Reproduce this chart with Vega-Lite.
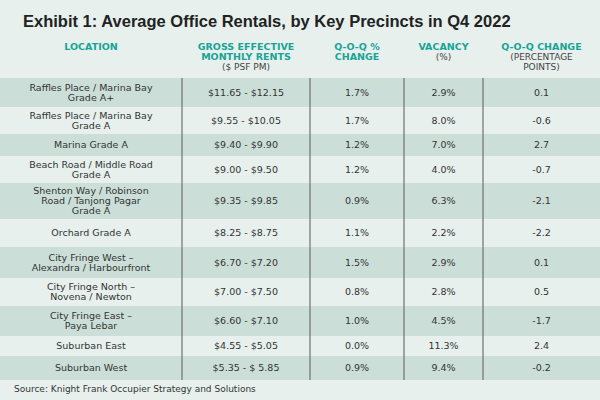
{
  "$schema": "https://vega.github.io/schema/vega-lite/v6.json",
  "width": 600,
  "height": 365,
  "autosize": "none",
  "padding": {"top": 35, "left": 0, "right": 0, "bottom": 0},
  "background": "#e7f0ed",
  "config": {"view": {"stroke": null}},
  "title": {
    "text": "Exhibit 1: Average Office Rentals, by Key Precincts in Q4 2022",
    "anchor": "start",
    "frame": "group",
    "dx": 23,
    "offset": 5,
    "font": "Liberation Sans",
    "fontSize": 16.5,
    "fontWeight": "bold",
    "color": "#222222"
  },
  "datasets": {
    "stripes": [
      {"row": 0.5, "row2": 1.5},
      {"row": 2.5, "row2": 3.5},
      {"row": 4.5, "row2": 5.5},
      {"row": 6.5, "row2": 7.5},
      {"row": 8.5, "row2": 9.5},
      {"row": 10.5, "row2": 11.5}
    ],
    "dividers": [{"col": 1.5}, {"col": 2.5}, {"col": 3.5}, {"col": 4.5}],
    "heads": [
      {"row": -2, "col": 1, "text": "LOCATION"},
      {"row": -2, "col": 2, "text": "GROSS EFFECTIVE"},
      {"row": -1, "col": 2, "text": "MONTHLY RENTS"},
      {"row": -2, "col": 3, "text": "Q-O-Q %"},
      {"row": -1, "col": 3, "text": "CHANGE"},
      {"row": -2, "col": 4, "text": "VACANCY"},
      {"row": -2, "col": 5, "text": "Q-O-Q CHANGE"}
    ],
    "subheads": [
      {"row": 0, "col": 2, "text": "($ PSF PM)"},
      {"row": -1, "col": 4, "text": "(%)"},
      {"row": -1, "col": 5, "text": "(PERCENTAGE"},
      {"row": 0, "col": 5, "text": "POINTS)"}
    ],
    "cells": [
      {"row": 1, "col": 1, "text": "Raffles Place / Marina Bay\nGrade A+"},
      {"row": 1, "col": 2, "text": "$11.65 - $12.15"},
      {"row": 1, "col": 3, "text": "1.7%"},
      {"row": 1, "col": 4, "text": "2.9%"},
      {"row": 1, "col": 5, "text": "0.1"},
      {"row": 2, "col": 1, "text": "Raffles Place / Marina Bay\nGrade A"},
      {"row": 2, "col": 2, "text": "$9.55 - $10.05"},
      {"row": 2, "col": 3, "text": "1.7%"},
      {"row": 2, "col": 4, "text": "8.0%"},
      {"row": 2, "col": 5, "text": "-0.6"},
      {"row": 3, "col": 1, "text": "Marina Grade A"},
      {"row": 3, "col": 2, "text": "$9.40 - $9.90"},
      {"row": 3, "col": 3, "text": "1.2%"},
      {"row": 3, "col": 4, "text": "7.0%"},
      {"row": 3, "col": 5, "text": "2.7"},
      {"row": 4, "col": 1, "text": "Beach Road / Middle Road\nGrade A"},
      {"row": 4, "col": 2, "text": "$9.00 - $9.50"},
      {"row": 4, "col": 3, "text": "1.2%"},
      {"row": 4, "col": 4, "text": "4.0%"},
      {"row": 4, "col": 5, "text": "-0.7"},
      {"row": 5, "col": 1, "text": "Shenton Way / Robinson\nRoad / Tanjong Pagar\nGrade A"},
      {"row": 5, "col": 2, "text": "$9.35 - $9.85"},
      {"row": 5, "col": 3, "text": "0.9%"},
      {"row": 5, "col": 4, "text": "6.3%"},
      {"row": 5, "col": 5, "text": "-2.1"},
      {"row": 6, "col": 1, "text": "Orchard Grade A"},
      {"row": 6, "col": 2, "text": "$8.25 - $8.75"},
      {"row": 6, "col": 3, "text": "1.1%"},
      {"row": 6, "col": 4, "text": "2.2%"},
      {"row": 6, "col": 5, "text": "-2.2"},
      {"row": 7, "col": 1, "text": "City Fringe West –\nAlexandra / Harbourfront"},
      {"row": 7, "col": 2, "text": "$6.70 - $7.20"},
      {"row": 7, "col": 3, "text": "1.5%"},
      {"row": 7, "col": 4, "text": "2.9%"},
      {"row": 7, "col": 5, "text": "0.1"},
      {"row": 8, "col": 1, "text": "City Fringe North –\nNovena / Newton"},
      {"row": 8, "col": 2, "text": "$7.00 - $7.50"},
      {"row": 8, "col": 3, "text": "0.8%"},
      {"row": 8, "col": 4, "text": "2.8%"},
      {"row": 8, "col": 5, "text": "0.5"},
      {"row": 9, "col": 1, "text": "City Fringe East –\nPaya Lebar"},
      {"row": 9, "col": 2, "text": "$6.60 - $7.10"},
      {"row": 9, "col": 3, "text": "1.0%"},
      {"row": 9, "col": 4, "text": "4.5%"},
      {"row": 9, "col": 5, "text": "-1.7"},
      {"row": 10, "col": 1, "text": "Suburban East"},
      {"row": 10, "col": 2, "text": "$4.55 - $5.05"},
      {"row": 10, "col": 3, "text": "0.0%"},
      {"row": 10, "col": 4, "text": "11.3%"},
      {"row": 10, "col": 5, "text": "2.4"},
      {"row": 11, "col": 1, "text": "Suburban West"},
      {"row": 11, "col": 2, "text": "$5.35 - $ 5.85"},
      {"row": 11, "col": 3, "text": "0.9%"},
      {"row": 11, "col": 4, "text": "9.4%"},
      {"row": 11, "col": 5, "text": "-0.2"}
    ],
    "notes": [
      {"row": 12, "col": 0, "text": "Source: Knight Frank Occupier Strategy and Solutions"}
    ]
  },
  "layer": [
    {
      "data": {"name": "stripes"},
      "mark": {"type": "rect", "color": "#cbdfd8"},
      "encoding": {
        "y": {"field": "row", "type": "quantitative", "axis": null,
          "scale": {"type": "linear", "zero": false, "nice": false,
            "domain": [-2, -1, 0, 0.5, 1, 1.5, 2, 2.5, 3, 3.5, 4, 4.5, 5, 5.5, 6, 6.5, 7, 7.5, 8, 8.5, 9, 9.5, 10, 10.5, 11, 11.5, 12],
            "range": [12, 22, 32, 43, 57.5, 72, 85.5, 99, 110, 121, 134.5, 148, 166, 184, 198, 212, 227.5, 243, 257, 271, 286, 301, 311, 321, 333, 345, 354]}},
        "y2": {"field": "row2"}
      }
    },
    {
      "data": {"name": "dividers"},
      "mark": {"type": "rule", "color": "#707070", "strokeWidth": 1.2},
      "encoding": {
        "x": {"field": "col", "type": "quantitative", "axis": null,
          "scale": {"type": "linear", "zero": false, "nice": false,
            "domain": [0, 1, 1.5, 2, 2.5, 3, 3.5, 4, 4.5, 5],
            "range": [14, 91, 182, 246, 310, 357, 404, 443.5, 483, 541.5]}},
        "y": {"datum": 0.5, "type": "quantitative"},
        "y2": {"datum": 11.5}
      }
    },
    {
      "data": {"name": "heads"},
      "mark": {"type": "text", "font": "DejaVu Sans", "fontSize": 9.5, "fontWeight": "bold", "color": "#17a496", "baseline": "middle", "align": "center"},
      "encoding": {
        "x": {"field": "col", "type": "quantitative"},
        "y": {"field": "row", "type": "quantitative"},
        "text": {"field": "text"}
      }
    },
    {
      "data": {"name": "subheads"},
      "mark": {"type": "text", "font": "DejaVu Sans", "fontSize": 9, "color": "#444444", "baseline": "middle", "align": "center"},
      "encoding": {
        "x": {"field": "col", "type": "quantitative"},
        "y": {"field": "row", "type": "quantitative"},
        "text": {"field": "text"}
      }
    },
    {
      "data": {"name": "cells"},
      "transform": [{"filter": "split(datum.text, '\\n').length == 1"}],
      "mark": {"type": "text", "font": "DejaVu Sans", "fontSize": 9.5, "color": "#333333", "baseline": "middle", "align": "center"},
      "encoding": {
        "x": {"field": "col", "type": "quantitative"},
        "y": {"field": "row", "type": "quantitative"},
        "text": {"field": "text"}
      }
    },
    {
      "data": {"name": "cells"},
      "transform": [{"filter": "split(datum.text, '\\n').length == 2"}],
      "mark": {"type": "text", "font": "DejaVu Sans", "fontSize": 9.5, "color": "#333333", "baseline": "middle", "align": "center", "lineBreak": "\n", "lineHeight": 10, "dy": -5},
      "encoding": {
        "x": {"field": "col", "type": "quantitative"},
        "y": {"field": "row", "type": "quantitative"},
        "text": {"field": "text"}
      }
    },
    {
      "data": {"name": "cells"},
      "transform": [{"filter": "split(datum.text, '\\n').length == 3"}],
      "mark": {"type": "text", "font": "DejaVu Sans", "fontSize": 9.5, "color": "#333333", "baseline": "middle", "align": "center", "lineBreak": "\n", "lineHeight": 10, "dy": -10},
      "encoding": {
        "x": {"field": "col", "type": "quantitative"},
        "y": {"field": "row", "type": "quantitative"},
        "text": {"field": "text"}
      }
    },
    {
      "data": {"name": "notes"},
      "mark": {"type": "text", "font": "DejaVu Sans", "fontSize": 9, "color": "#333333", "baseline": "middle", "align": "left"},
      "encoding": {
        "x": {"field": "col", "type": "quantitative"},
        "y": {"field": "row", "type": "quantitative"},
        "text": {"field": "text"}
      }
    }
  ]
}
